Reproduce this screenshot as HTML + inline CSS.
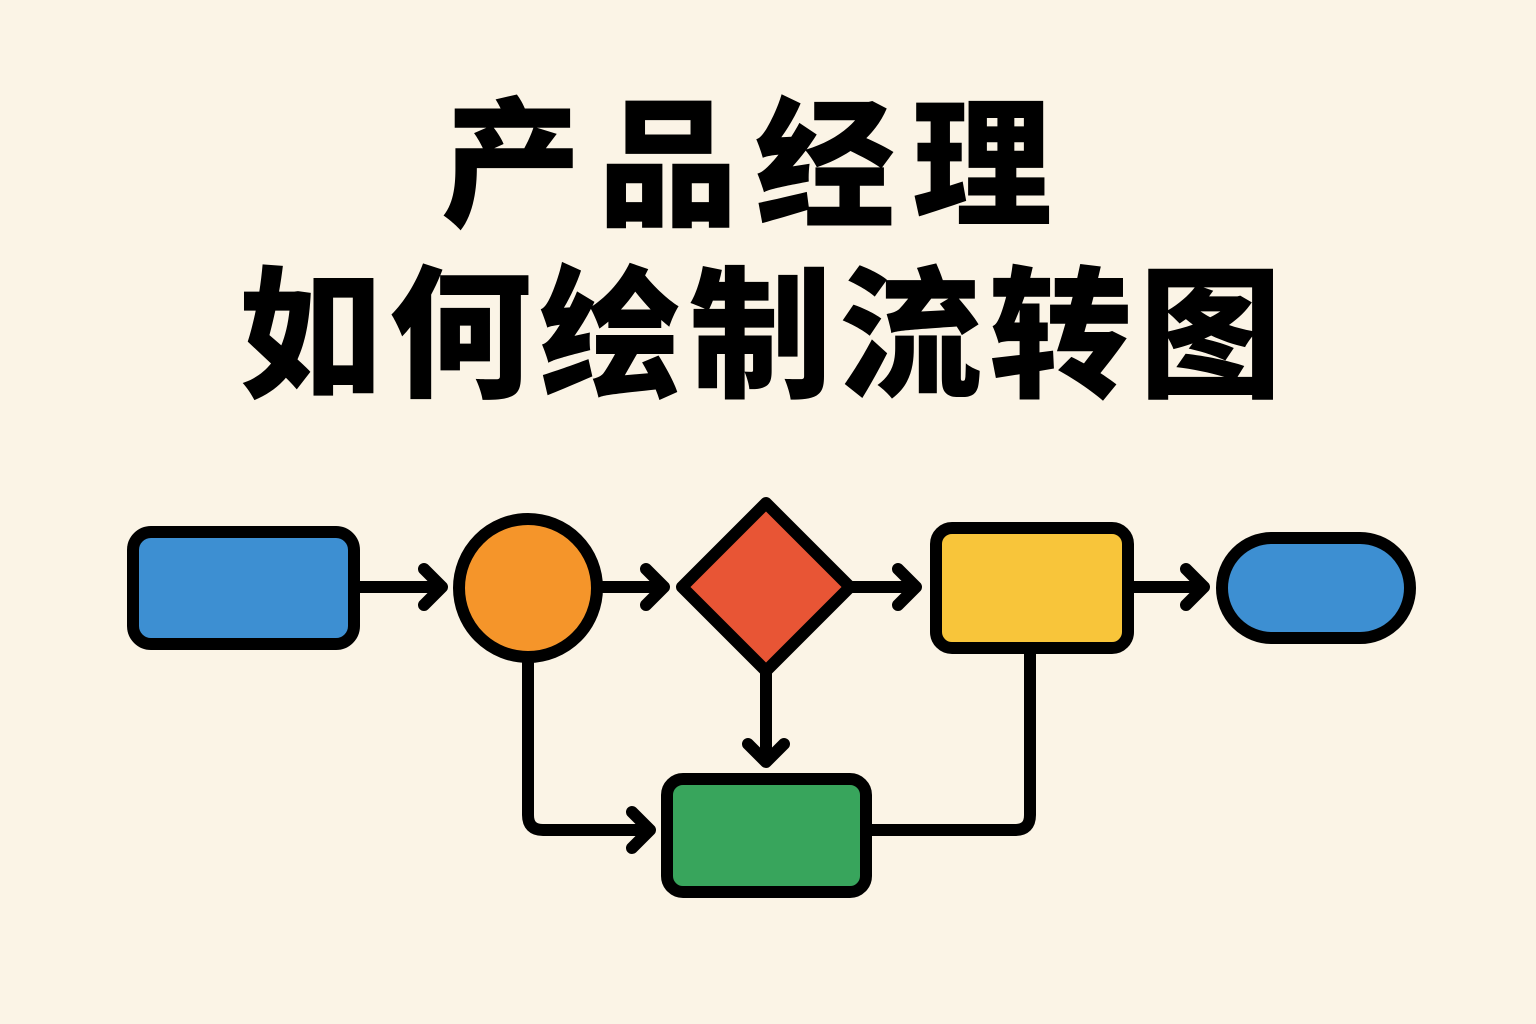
<!DOCTYPE html>
<html><head><meta charset="utf-8"><style>
html,body{margin:0;padding:0;background:#fbf4e6;}
body{width:1536px;height:1024px;position:relative;overflow:hidden;}
.t{position:absolute;font-family:"Liberation Sans","Noto Sans CJK SC",sans-serif;font-weight:900;color:#000;line-height:1;white-space:nowrap;}
svg{position:absolute;left:0;top:0;}
</style></head><body>
<div class="t" style="top:97px;left:441px;font-size:140px;letter-spacing:17px;">产品经理</div>
<div class="t" style="top:266px;left:239px;font-size:143px;letter-spacing:7px;">如何绘制流转图</div>
<svg width="1536" height="1024" viewBox="0 0 1536 1024">
<g stroke="#000" stroke-width="12" stroke-linejoin="round" stroke-linecap="round" fill="none">
<rect x="133" y="532" width="221" height="112" rx="18" fill="#3d8fd2"/>
<circle cx="528" cy="588" r="69" fill="#f5952a"/>
<polygon points="766,503 850,587 766,671 682,587" fill="#e85535"/>
<rect x="936" y="528" width="192" height="120" rx="16" fill="#f8c53a"/>
<rect x="1222" y="538" width="188" height="100" rx="50" fill="#3d8fd2"/>
<rect x="667" y="779" width="199" height="113" rx="16" fill="#38a55c"/>
<path d="M360 587 H440 M424 569 L442 587 L424 605"/>
<path d="M603 587 H662 M646 569 L664 587 L646 605"/>
<path d="M850 587 H914 M898 569 L916 587 L898 605"/>
<path d="M1128 587 H1202 M1186 569 L1204 587 L1186 605"/>
<path d="M766 671 V760 M748 744 L766 762 L784 744"/>
<path d="M528 657 V815 Q528 830 543 830 H650 M632 812 L650 830 L632 848"/>
<path d="M1030 648 V815 Q1030 830 1015 830 H866"/>
</g>
</svg>
</body></html>
